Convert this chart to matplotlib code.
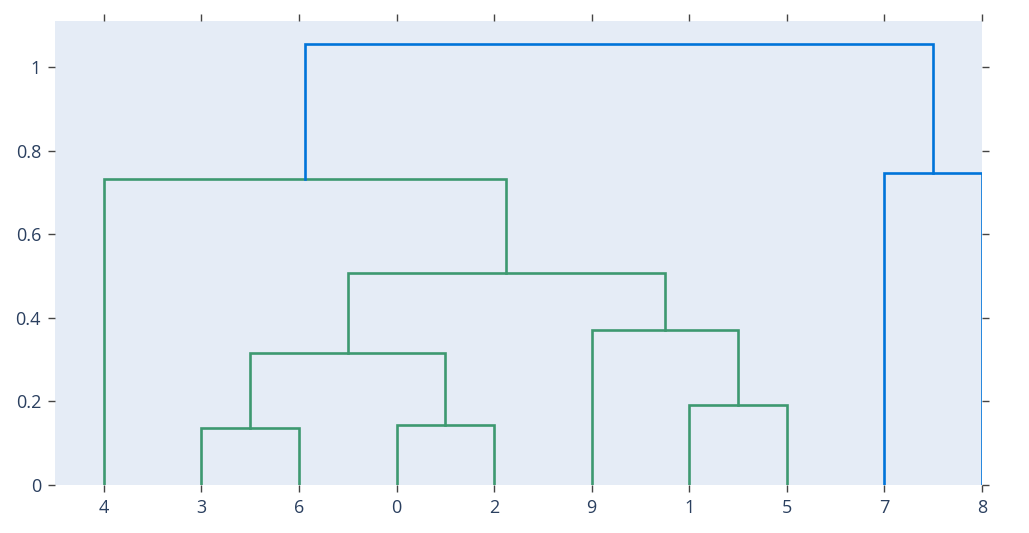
import matplotlib
matplotlib.use("Agg")
import matplotlib.pyplot as plt

# leaf order along the x axis
leaves = ["4", "3", "6", "0", "2", "9", "1", "5", "7", "8"]

# merges: (left child, right child, height, new node name, colour group)
merges = [
    ("3", "6", 0.1355, "A", "g"),
    ("0", "2", 0.1434, "B", "g"),
    ("1", "5", 0.191, "C", "g"),
    ("A", "B", 0.315, "D", "g"),
    ("9", "C", 0.3705, "E", "g"),
    ("D", "E", 0.5075, "F", "g"),
    ("4", "F", 0.7315, "G", "g"),
    ("7", "8", 0.7475, "H", "b"),
    ("G", "H", 1.054, "R", "b"),
]

colors = {"g": "#3D9970", "b": "#0074D9"}

# positions of leaves like scipy / plotly: 5, 15, 25 ...
pos = {name: 5 + 10 * i for i, name in enumerate(leaves)}
hgt = {name: 0.0 for name in leaves}

W, H = 1029, 533
fig = plt.figure(figsize=(W / 100, H / 100), dpi=100)
ax = fig.add_axes([55 / W, (533 - 485) / H, (982 - 55) / W, (485 - 21) / H])
ax.set_facecolor("#E5ECF6")

for a, b, h, new, grp in merges:
    xs = [pos[a], pos[a], pos[b], pos[b]]
    ys = [hgt[a], h, h, hgt[b]]
    ax.plot(xs, ys, color=colors[grp], lw=1.9, solid_joinstyle="miter")
    pos[new] = (pos[a] + pos[b]) / 2
    hgt[new] = h

ax.set_xlim(0, 95)
ax.set_ylim(0, 1.11)
ax.set_xticks([pos[n] for n in leaves])
ax.set_xticklabels(leaves)
ax.set_yticks([0, 0.2, 0.4, 0.6, 0.8, 1])
ax.set_yticklabels(["0", "0.2", "0.4", "0.6", "0.8", "1"])

for s in ax.spines.values():
    s.set_visible(False)

ax.tick_params(axis="both", which="both", direction="out", length=5, width=1,
               color="#444444", labelcolor="#2a3f5f", labelsize=13,
               top=True, right=True, labeltop=False, labelright=False, pad=5)
for lab in ax.get_xticklabels() + ax.get_yticklabels():
    lab.set_family("Open Sans")

fig.savefig("out.png", dpi=100, facecolor="white")
